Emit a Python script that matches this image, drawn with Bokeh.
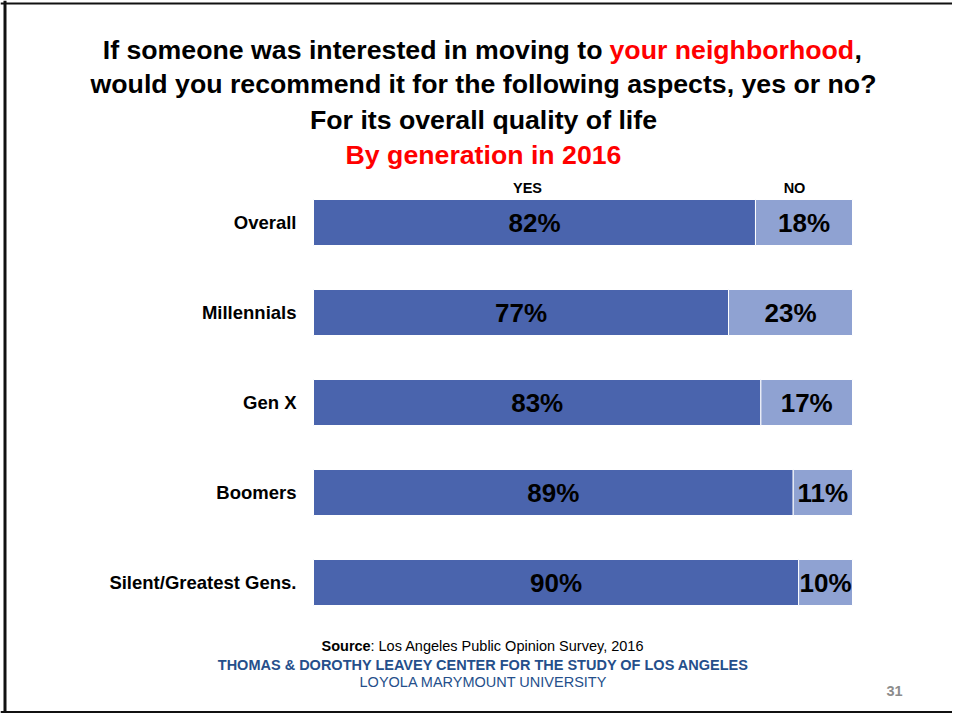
from bokeh.plotting import figure
from bokeh.models import Range1d, Label, Span, ColumnDataSource
from bokeh.core.properties import value
from bokeh.embed import file_html
from bokeh.resources import INLINE

# ---- data ----
categories = ["Overall", "Millennials", "Gen X", "Boomers", "Silent/Greatest Gens."]
yes_pct = [82, 77, 83, 89, 90]
no_pct = [18, 23, 17, 11, 10]
col_headers = ["YES", "NO"]

# ---- layout constants (canvas pixels) ----
W, H = 952, 713
BAR_L, BAR_R = 313, 852          # canvas x of 0% and 100%
PX_PER_UNIT = (BAR_R - BAR_L) / 100.0
ROW_PX = 90.0
LAST_ROW_FROM_BOTTOM = H - 582.0  # pixels from canvas bottom to centre of last row

FONT = "Liberation Sans"
DARK = "#4A64AD"
LIGHT = "#8FA2D2"
FOOT_BLUE = "#254F8B"

x0 = -BAR_L / PX_PER_UNIT
x1 = 100 + (W - BAR_R) / PX_PER_UNIT
y0 = -LAST_ROW_FROM_BOTTOM / ROW_PX
y1 = y0 + H / ROW_PX

p = figure(width=W, height=H, x_range=Range1d(x0, x1), y_range=Range1d(y0, y1),
           min_border=0, toolbar_location=None, output_backend="svg",
           x_axis_location=None, y_axis_location=None, title=None)
p.xgrid.visible = False
p.ygrid.visible = False
p.outline_line_color = None
p.background_fill_color = "white"
p.border_fill_color = "white"

n = len(categories)
ypos = [n - 1 - i for i in range(n)]
src = ColumnDataSource(dict(
    y=ypos, cat=categories, yes=yes_pct, no=no_pct,
    total=[a + b for a, b in zip(yes_pct, no_pct)],
    yes_mid=[a / 2 for a in yes_pct],
    no_mid=[a + b / 2 for a, b in zip(yes_pct, no_pct)],
    yes_lbl=[f"{v}%" for v in yes_pct],
    no_lbl=[f"{v}%" for v in no_pct],
    lab_x=[-17 / PX_PER_UNIT] * n,
))

BAR_H = 46 / ROW_PX
p.hbar(y="y", left=0, right="yes", height=BAR_H, source=src,
       fill_color=DARK, line_color="white", line_width=1)
p.hbar(y="y", left="yes", right="total", height=BAR_H, source=src,
       fill_color=LIGHT, line_color="white", line_width=1)

p.text(x="yes_mid", y="y", text="yes_lbl", source=src, text_align="center",
       text_baseline="middle", text_font=value(FONT), text_font_style="bold",
       text_font_size=value("26px"), text_color="black")
p.text(x="no_mid", y="y", text="no_lbl", source=src, text_align="center",
       text_baseline="middle", text_font=value(FONT), text_font_style="bold",
       text_font_size=value("26px"), text_color="black")
p.text(x="lab_x", y="y", text="cat", source=src, text_align="right",
       text_baseline="middle", text_font=value(FONT), text_font_style="bold",
       text_font_size=value("18.5px"), text_color="black")


def lab(x, y_mid, text, size, color="black", bold=True, align="center"):
    p.add_layout(Label(x=x, y=H - y_mid, x_units="screen", y_units="screen", text=text,
                       text_font=FONT, text_font_size=size,
                       text_font_style="bold" if bold else "normal",
                       text_color=color, text_align=align, text_baseline="middle"))


# column headers
lab(527, 187, col_headers[0], "14.5px")
lab(794, 187, col_headers[1], "14.5px")

# title
TS = "26.7px"
lab(602, 49, "If someone was interested in moving to", TS, align="right")
lab(609, 49, "your neighborhood", TS, color="#FF0000", align="left")
lab(854, 49, ",", TS, align="left")
lab(483, 83.5, "would you recommend it for the following aspects, yes or no?", TS)
lab(483, 119.5, "For its overall quality of life", TS)
lab(483, 154, "By generation in 2016", TS, color="#FF0000")

# footer
lab(321, 645, "Source", "14.5px", align="left")
lab(370, 645, ": Los Angeles Public Opinion Survey, 2016", "14.5px", bold=False, align="left")
lab(483, 664, "THOMAS & DOROTHY LEAVEY CENTER FOR THE STUDY OF LOS ANGELES", "14.5px", color=FOOT_BLUE)
lab(483, 681.5, "LOYOLA MARYMOUNT UNIVERSITY", "14.5px", color=FOOT_BLUE, bold=False)
lab(894, 690, "31", "14.5px", color="#8C8C8C")

# slide frame
p.add_layout(Span(location=4.5, location_units="screen", dimension="height",
                  line_color="#111111", line_width=3))
p.add_layout(Span(location=H - 3, location_units="screen", dimension="width",
                  line_color="#111111", line_width=2))
p.add_layout(Span(location=1.5, location_units="screen", dimension="width",
                  line_color="#111111", line_width=2))

open("out.html", "w").write(file_html(p, INLINE))
